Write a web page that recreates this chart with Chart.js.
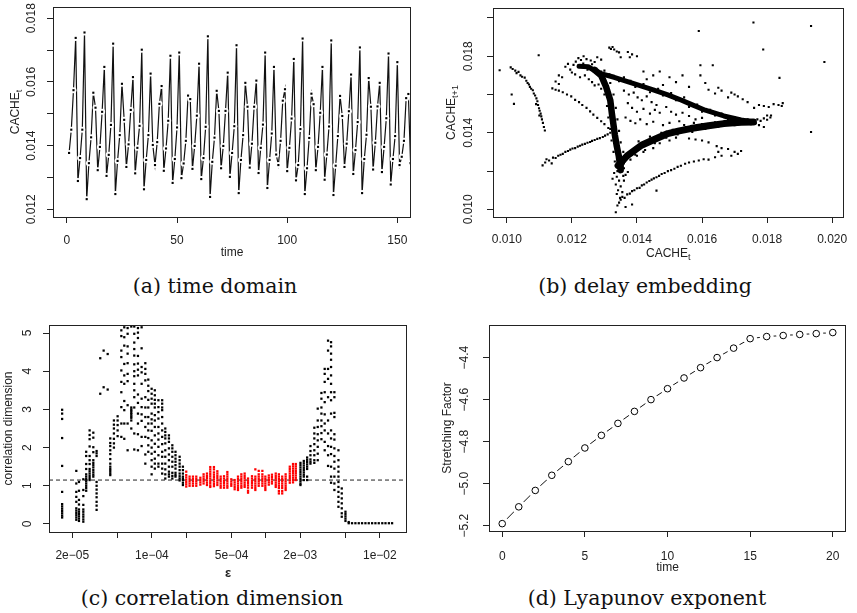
<!DOCTYPE html>
<html>
<head>
<meta charset="utf-8">
<script src="https://cdn.jsdelivr.net/npm/chart.js@4.4.1/dist/chart.umd.min.js"></script>
<style>
body { margin: 0; background: #fff; width: 857px; height: 613px; position: relative; overflow: hidden; }
canvas { position: absolute; }
.cap { position: absolute; width: 400px; text-align: center; font-family: "DejaVu Serif", serif; font-size: 20.5px; line-height: 21px; color: #111; white-space: nowrap; }
</style>
</head>
<body>
<canvas id="chartA" width="428" height="262" style="left:0;top:0"></canvas>
<canvas id="chartB" width="427" height="262" style="left:430px;top:0"></canvas>
<canvas id="chartC" width="428" height="284" style="left:0;top:300px"></canvas>
<canvas id="chartD" width="427" height="275" style="left:430px;top:300px"></canvas>
<div class="cap" style="left:15px;top:276px">(a) time domain</div>
<div class="cap" style="left:445px;top:276px">(b) delay embedding</div>
<div class="cap" style="left:12px;top:588px">(c) correlation dimension</div>
<div class="cap" style="left:447px;top:588px">(d) Lyapunov exponent</div>
<script>
// (a) time domain, t = 1, 2, 3 ...
var timeValues = [0.01377,0.01450,0.01574,0.01738,0.01289,0.01361,0.01450,0.01755,0.01232,0.01345,
  0.01426,0.01566,0.01519,0.01323,0.01396,0.01506,0.01647,0.01305,0.01371,0.01465,
  0.01720,0.01248,0.01352,0.01433,0.01594,0.01481,0.01333,0.01404,0.01512,0.01615,
  0.01313,0.01393,0.01462,0.01701,0.01263,0.01355,0.01433,0.01626,0.01402,0.01339,
  0.01411,0.01531,0.01587,0.01321,0.01391,0.01478,0.01682,0.01283,0.01358,0.01457,
  0.01692,0.01298,0.01344,0.01415,0.01557,0.01546,0.01327,0.01399,0.01494,0.01657,
  0.01295,0.01361,0.01459,0.01743,0.01239,0.01349,0.01425,0.01572,0.01509,0.01329,
  0.01399,0.01509,0.01629,0.01302,0.01377,0.01461,0.01715,0.01251,0.01355,0.01433,
  0.01597,0.01522,0.01331,0.01406,0.01522,0.01604,0.01314,0.01393,0.01466,0.01692,
  0.01267,0.01355,0.01438,0.01647,0.01372,0.01339,0.01415,0.01541,0.01577,0.01320,
  0.01393,0.01485,0.01672,0.01291,0.01339,0.01452,0.01736,0.01248,0.01329,0.01424,
  0.01563,0.01530,0.01323,0.01396,0.01503,0.01647,0.01293,0.01372,0.01460,0.01730,
  0.01245,0.01337,0.01430,0.01556,0.01493,0.01333,0.01406,0.01508,0.01623,0.01311,
  0.01386,0.01474,0.01708,0.01251,0.01358,0.01434,0.01612,0.01522,0.01325,0.01409,
  0.01523,0.01597,0.01317,0.01396,0.01486,0.01689,0.01278,0.01358,0.01430,0.01662,
  0.01339,0.01365,0.01415,0.01549,0.01562,0.01345];
var timeTicks = [0, 50, 100, 150];
var cacheTicks = [0.012, 0.013, 0.014, 0.015, 0.016, 0.017, 0.018];
var cacheLabels = ['0.012', '', '0.014', '', '0.016', '', '0.018'];

// (b) delay embedding: dense ridges and the scattered points around them
var embedRidgeUpper = [[0.01222,0.01748],[0.01250,0.01745],[0.01283,0.01712],[0.01330,0.01690],[0.01400,0.01652],
  [0.01450,0.01624],[0.01495,0.01598],[0.01530,0.01575],[0.01565,0.01550],[0.01610,0.01518],[0.01667,0.01488],
  [0.01720,0.01467],[0.01758,0.01456]];
var embedRidgeVertical = [[0.01270,0.01728],[0.01290,0.01700],[0.01305,0.01640],[0.01318,0.01570],[0.01323,0.01500],
  [0.01328,0.01440],[0.01332,0.01390],[0.01338,0.01330],[0.01344,0.01280],[0.01348,0.01230],[0.01350,0.01205]];
var embedRidgeLower = [[0.01342,0.01228],[0.01370,0.01280],[0.01414,0.01335],[0.01460,0.01370],[0.01495,0.01396],
  [0.01530,0.01410],[0.01565,0.01422],[0.01620,0.01437],[0.01667,0.01448],[0.01720,0.01455],[0.01758,0.01456]];
var embedPoints = [
  [0.00978,0.01727],[0.01012,0.01742],[0.01018,0.01733],[0.01026,0.01725],[0.01030,0.01712],[0.01036,0.01718],
  [0.01042,0.01700],[0.01047,0.01693],[0.01055,0.01688],[0.01060,0.01672],[0.01064,0.01660],[0.01068,0.01652],
  [0.01071,0.01640],[0.01075,0.01630],[0.01080,0.01622],[0.01083,0.01605],[0.01087,0.01595],[0.01091,0.01580],
  [0.01094,0.01565],[0.01096,0.01545],[0.01099,0.01528],[0.01101,0.01515],[0.01104,0.01500],[0.01106,0.01486],
  [0.01108,0.01470],[0.01111,0.01452],[0.01114,0.01430],[0.01117,0.01412],[0.01015,0.01600],[0.01022,0.01551],
  [0.01098,0.01805],[0.01090,0.01550],[0.01100,0.01490],
  [0.01110,0.01230],[0.01118,0.01245],[0.01122,0.01262],[0.01130,0.01255],[0.01138,0.01240],[0.01142,0.01270],
  [0.01150,0.01268],[0.01158,0.01280],[0.01165,0.01285],[0.01172,0.01290],[0.01180,0.01300],[0.01188,0.01305],
  [0.01195,0.01312],[0.01202,0.01318],[0.01210,0.01320],[0.01218,0.01328],[0.01225,0.01332],[0.01232,0.01338],
  [0.01240,0.01342],[0.01248,0.01348],[0.01256,0.01352],[0.01262,0.01358],[0.01270,0.01362],[0.01278,0.01368],
  [0.01286,0.01372],[0.01295,0.01378],[0.01302,0.01385],[0.01310,0.01392],[0.01318,0.01400],
  [0.01140,0.01632],[0.01150,0.01625],[0.01160,0.01620],[0.01172,0.01612],[0.01185,0.01600],[0.01198,0.01590],
  [0.01210,0.01572],[0.01222,0.01560],[0.01232,0.01545],[0.01245,0.01530],[0.01256,0.01512],[0.01266,0.01495],
  [0.01278,0.01478],[0.01290,0.01460],[0.01300,0.01445],[0.01312,0.01425],
  [0.01180,0.01745],[0.01188,0.01760],[0.01195,0.01730],[0.01205,0.01755],[0.01212,0.01772],[0.01220,0.01790],
  [0.01228,0.01780],[0.01236,0.01800],[0.01245,0.01785],[0.01258,0.01778],[0.01270,0.01770],[0.01278,0.01795],
  [0.01290,0.01782],[0.01200,0.01715],[0.01210,0.01705],[0.01225,0.01690],[0.01240,0.01700],[0.01252,0.01680],
  [0.01262,0.01665],[0.01270,0.01648],[0.01282,0.01652],[0.01290,0.01630],[0.01160,0.01700],[0.01170,0.01690],
  [0.01150,0.01668],[0.01160,0.01655],
  [0.01315,0.01845],[0.01320,0.01838],[0.01325,0.01848],[0.01330,0.01835],[0.01338,0.01825],[0.01345,0.01820],
  [0.01372,0.01822],[0.01385,0.01810],[0.01378,0.01795],[0.01400,0.01800],
  [0.01360,0.01620],[0.01375,0.01600],[0.01390,0.01610],[0.01402,0.01585],[0.01415,0.01570],[0.01430,0.01590],
  [0.01445,0.01560],[0.01460,0.01545],[0.01372,0.01555],[0.01385,0.01530],[0.01400,0.01510],[0.01420,0.01525],
  [0.01440,0.01500],[0.01455,0.01520],[0.01470,0.01505],[0.01490,0.01535],[0.01505,0.01510],[0.01520,0.01495],
  [0.01540,0.01505],[0.01560,0.01488],[0.01580,0.01470],[0.01600,0.01478],[0.01365,0.01480],[0.01380,0.01462],
  [0.01395,0.01450],[0.01410,0.01470],[0.01430,0.01445],[0.01450,0.01458],[0.01480,0.01440],[0.01500,0.01452],
  [0.01530,0.01460],[0.01545,0.01440],[0.01575,0.01452],
  [0.01560,0.01370],[0.01580,0.01365],[0.01600,0.01360],[0.01620,0.01350],[0.01645,0.01330],[0.01660,0.01320],
  [0.01680,0.01315],[0.01700,0.01300],[0.01720,0.01305],[0.01690,0.01280],[0.01650,0.01300],[0.01710,0.01290],
  [0.01420,0.01300],[0.01450,0.01320],[0.01470,0.01345],[0.01500,0.01360],[0.01520,0.01375],[0.01400,0.01280],
  [0.01380,0.01260],
  [0.01335,0.00985],[0.01340,0.01020],[0.01345,0.01035],[0.01350,0.01050],[0.01355,0.01065],[0.01362,0.01060],
  [0.01370,0.01078],[0.01378,0.01082],[0.01385,0.01095],[0.01392,0.01100],[0.01400,0.01110],[0.01408,0.01112],
  [0.01415,0.01125],[0.01422,0.01130],[0.01430,0.01140],[0.01438,0.01148],[0.01445,0.01155],[0.01452,0.01162],
  [0.01460,0.01168],[0.01468,0.01175],[0.01476,0.01185],[0.01485,0.01190],[0.01495,0.01200],[0.01505,0.01205],
  [0.01515,0.01212],[0.01525,0.01222],[0.01535,0.01228],[0.01548,0.01238],[0.01560,0.01245],[0.01575,0.01250],
  [0.01590,0.01255],[0.01605,0.01262],[0.01620,0.01260],[0.01640,0.01272],[0.01660,0.01280],[0.01385,0.01025],
  [0.01365,0.01012],[0.01460,0.01098],
  [0.01330,0.01190],[0.01338,0.01170],[0.01345,0.01150],[0.01335,0.01130],[0.01350,0.01120],[0.01342,0.01100],
  [0.01355,0.01090],[0.01338,0.01080],[0.01360,0.01150],[0.01365,0.01180],[0.01325,0.01160],[0.01348,0.01060],
  [0.01358,0.01175],[0.01372,0.01195],
  [0.01770,0.01470],[0.01780,0.01462],[0.01790,0.01475],[0.01800,0.01468],[0.01810,0.01480],[0.01775,0.01440],
  [0.01790,0.01430],[0.01800,0.01490],[0.01812,0.01490],
  [0.01760,0.01530],[0.01775,0.01545],[0.01790,0.01540],[0.01805,0.01535],[0.01820,0.01550],[0.01835,0.01545],
  [0.01845,0.01540],[0.01848,0.01555],[0.01740,0.01560],[0.01725,0.01575],[0.01710,0.01590],[0.01700,0.01600],
  [0.01690,0.01610],[0.01680,0.01585],[0.01660,0.01620],[0.01650,0.01635],[0.01640,0.01605],[0.01620,0.01625],
  [0.01610,0.01660],[0.01595,0.01700],[0.01560,0.01640],[0.01520,0.01665],[0.01500,0.01690],[0.01480,0.01650],
  [0.01540,0.01700],[0.01470,0.01720],[0.01450,0.01700],[0.01430,0.01680],[0.01420,0.01720],
  [0.01758,0.01976],[0.01935,0.01958],[0.01590,0.01932],[0.01788,0.01835],[0.01976,0.01770],[0.01838,0.01687],
  [0.01935,0.01404],[0.01595,0.01753],[0.01633,0.01753],[0.01350,0.01795],
  // spread along the dense ridges
  [0.01235,0.01762],[0.01248,0.01730],[0.01262,0.01758],[0.01275,0.01735],[0.01290,0.01720],[0.01300,0.01725],
  [0.01315,0.01705],[0.01345,0.01670],[0.01360,0.01690],[0.01380,0.01672],[0.01395,0.01640],[0.01420,0.01655],
  [0.01440,0.01612],[0.01465,0.01630],[0.01480,0.01595],[0.01505,0.01608],[0.01520,0.01570],[0.01545,0.01585],
  [0.01560,0.01535],[0.01585,0.01548],[0.01600,0.01510],[0.01625,0.01520],[0.01640,0.01490],[0.01660,0.01500],
  [0.01680,0.01470],[0.01700,0.01482],[0.01725,0.01455],[0.01740,0.01470],[0.01750,0.01445],[0.01765,0.01450],
  [0.01295,0.01680],[0.01318,0.01660],[0.01300,0.01600],[0.01328,0.01600],[0.01308,0.01540],[0.01335,0.01530],
  [0.01312,0.01480],[0.01340,0.01470],[0.01318,0.01420],[0.01345,0.01410],[0.01322,0.01360],[0.01350,0.01350],
  [0.01328,0.01300],[0.01358,0.01300],[0.01332,0.01250],[0.01362,0.01250],[0.01340,0.01200],[0.01360,0.01215],
  [0.01360,0.01240],[0.01380,0.01305],[0.01395,0.01285],[0.01405,0.01355],[0.01425,0.01310],[0.01440,0.01380],
  [0.01455,0.01345],[0.01475,0.01400],[0.01490,0.01375],[0.01510,0.01415],[0.01525,0.01392],[0.01550,0.01430],
  [0.01570,0.01405],[0.01600,0.01445],[0.01610,0.01420],[0.01640,0.01455],[0.01650,0.01432],[0.01690,0.01465],
  [0.01700,0.01440],[0.01735,0.01465]];
var embedXTicks = [0.010, 0.012, 0.014, 0.016, 0.018, 0.020];
var embedXLabels = ['0.010', '0.012', '0.014', '0.016', '0.018', '0.020'];
var embedYTicks = [0.010, 0.012, 0.014, 0.016, 0.018, 0.020];
var embedYLabels = ['0.010', '', '0.014', '', '0.018', ''];

// (c) correlation dimension: [epsilon, values at that epsilon]
var corrBlack = [
  [1.63e-5, [2.99,2.89,2.75,2.25,1.52,0.84,0.52,0.46,0.40,0.34,0.28,0.22,0.17]],
  [2.17e-5, [1.39,1.06,0.84,0.71,0.58,0.41,0.35,0.29,0.23,0.17,0.11]],
  [2.29e-5, [1.10,0.87,0.63,0.51,0.38,0.32,0.26,0.20,0.14,0.08]],
  [2.50e-5, [1.17,0.89,0.73,0.50,0.38,0.32,0.25,0.19,0.12,0.06]],
  [2.65e-5, [1.89,1.78,1.57,1.44,1.30,1.24,1.18,1.12,1.06,1.00,0.94,0.87]],
  [2.84e-5, [2.45,2.33,2.22,2.03,1.78,1.67,1.57,1.44,1.38,1.32,1.26,1.20,1.15]],
  [3.06e-5, [2.39,2.26,2.01,1.88,1.67,1.60,1.54,1.48,1.41,1.35,1.29,1.24]],
  [3.27e-5, [1.91,1.85,1.78,1.10,1.00,0.90,0.80,0.70,0.58,0.48,0.37]],
  [3.52e-5, [4.34,3.41]],
  [3.77e-5, [4.54,3.58]],
  [4.09e-5, [4.45,3.52]],
  [4.31e-5, [2.24,2.12,2.04,1.93,1.83,1.70,1.58,1.50,1.44,1.39,1.33,1.28]],
  [4.64e-5, [2.71,2.60,2.50,2.37,2.23,2.11,2.00]],
  [5.00e-5, [2.82,2.71,2.59,2.45,2.30]],
  [5.39e-5, [5.07,4.92,4.54,4.37,4.02,3.72,3.45,3.06,2.63,2.28]],
  [5.72e-5, [5.15,4.89,4.67,4.19,3.89,3.67,3.22,2.98,2.63,2.23]],
  [6.12e-5, [5.13,4.98,4.65,4.46,4.21,3.93,3.74,3.11,2.63,1.93]],
  [6.59e-5, [5.17,3.05,3.00,2.96,2.91,2.87,2.82,2.78,2.71,2.50]],
  [7.00e-5, [5.17,4.98,4.75,4.58,4.41,4.18,4.00,3.87,3.67,3.50,3.32,3.05,2.37,1.95]],
  [7.54e-5, [5.13,5.01,4.87,4.40,4.20,4.04,3.89,3.39,3.17,2.89,2.63,2.35,1.93]],
  [8.12e-5, [5.15,4.60,4.11,3.97,3.67,3.28,3.06,2.87,2.70,2.28,2.04]],
  [8.75e-5, [4.21,4.06,3.93,3.76,3.32,3.05,2.80,2.54,2.28,1.82,1.58]],
  [9.29e-5, [3.78,3.62,3.48,3.25,3.05,2.80,2.63,2.45,2.25,2.06,1.89]],
  [9.94e-5, [3.54,3.41,3.28,3.15,2.89,2.74,2.63,2.44,2.19,2.00,1.84,1.67,1.50,1.30]],
  [1.06e-4, [3.50,3.37,3.25,3.15,3.05,2.85,2.71,2.54,2.32,2.10,1.89,1.71,1.58,1.45]],
  [1.14e-4, [3.24,3.06,2.93,2.76,2.54,2.37,2.21,2.02,1.80,1.58,1.50]],
  [1.23e-4, [3.24,3.15,3.05,2.98,2.80,2.63,2.45,2.28,2.09,1.89,1.76,1.58,1.45,1.32]],
  [1.31e-4, [2.50,2.41,2.32,2.24,2.11,1.93,1.76,1.58,1.43,1.30,1.19]],
  [1.41e-4, [2.32,2.24,2.15,1.98,1.82,1.67,1.50,1.37,1.30,1.24]],
  [1.51e-4, [2.06,1.98,1.89,1.76,1.63,1.50,1.34,1.26,1.19]],
  [1.61e-4, [1.89,1.80,1.71,1.63,1.54,1.45,1.34,1.28,1.24]],
  [1.75e-4, [1.76,1.67,1.58,1.50,1.41,1.32,1.25,1.19,1.14]],
  [1.87e-4, [1.50,1.41,1.32,1.24,1.19,1.15,1.08,1.02]],
  [2.01e-3, [1.60,1.54,1.48,1.42,1.36,1.30,1.24,1.18,1.12,1.06,1.02]],
  [2.15e-3, [1.65,1.59,1.53,1.47,1.41,1.35,1.29,1.24,1.15]],
  [2.30e-3, [1.74,1.68,1.62,1.56,1.50,1.44,1.24,1.15]],
  [2.46e-3, [2.04,1.91,1.80,1.69,1.63,1.58]],
  [2.66e-3, [2.52,2.37,2.24,2.09,1.93,1.80,1.67,1.60]],
  [2.85e-3, [3.02,2.71,2.54,2.35,2.19,2.02,1.84,1.67]],
  [3.07e-3, [3.43,3.28,3.05,2.89,2.71,2.56,2.38,2.22]],
  [3.28e-3, [4.06,3.93,3.72,3.45,3.19,2.87,2.63,2.45,2.15,1.93]],
  [3.51e-3, [4.80,4.54,4.06,3.80,3.32,2.71,2.37,2.04,1.80,1.52]],
  [3.73e-3, [4.76,4.65,4.46,4.30,4.11,3.89,3.67,3.45,3.24,2.89,2.45,2.24,2.02,1.83,1.50,1.24,1.08]],
  [3.99e-3, [3.45,3.32,2.91,2.80,2.35,2.21,1.98,1.78,1.63,1.45,1.24,1.06,0.89]],
  [4.33e-3, [1.93,1.67,1.50,1.37,1.24,1.10,0.97,0.84,0.71,0.58,0.45]],
  [4.63e-3, [0.93,0.80,0.67,0.54,0.41,0.28,0.19]],
  [4.99e-3, [0.32,0.26,0.20,0.14,0.08]],
  [5.33e-3, [0.05,0.02]],
  [5.70e-3, [0.02]], [6.10e-3, [0.02]], [6.53e-3, [0.02]], [6.98e-3, [0.02]], [7.47e-3, [0.02]],
  [7.99e-3, [0.02]], [8.55e-3, [0.02]], [9.14e-3, [0.02]], [9.78e-3, [0.02]], [1.05e-2, [0.02]],
  [1.12e-2, [0.02]], [1.20e-2, [0.02]], [1.28e-2, [0.02]]];
var corrRed = [
  [2.00e-4, [1.37,1.28,1.22,1.16,1.10,1.04,0.98]],
  [2.14e-4, [1.24,1.18,1.12,1.06,1.00]],
  [2.29e-4, [1.24,1.18,1.12,1.06,1.00]],
  [2.45e-4, [1.24,1.18,1.12,1.06,1.00]],
  [2.66e-4, [1.21,1.15,1.09,1.03]],
  [2.84e-4, [1.30,1.24,1.18,1.12,1.06]],
  [3.04e-4, [1.32,1.26,1.20,1.14,1.08,1.02]],
  [3.25e-4, [1.49,1.43,1.37,1.31,1.25,1.19,1.13,1.07,1.01,0.97]],
  [3.50e-4, [1.49,1.43,1.35,1.29,1.23,1.17,1.11,1.05,0.99]],
  [3.75e-4, [1.38,1.32,1.26,1.20,1.14,1.08,1.02]],
  [4.01e-4, [1.24,1.18,1.12,1.06,1.00,0.95]],
  [4.29e-4, [1.25,1.19,1.13,1.07,1.01,0.95]],
  [4.59e-4, [1.36,1.30,1.24,1.18,1.12,1.06,1.00,0.95]],
  [4.97e-4, [1.17,1.11,1.05,1.00]],
  [5.32e-4, [1.15,1.09,1.03,0.97,0.91]],
  [5.69e-4, [1.24,1.18,1.12,1.06,1.00,0.94,0.89]],
  [6.09e-4, [1.30,1.24,1.18,1.12,1.06,1.00,0.95]],
  [6.51e-4, [1.32,1.26,1.20,1.14,1.08,1.02,0.97]],
  [6.97e-4, [1.19,1.13,1.07,1.01,0.95,0.87,0.82]],
  [7.55e-4, [1.25,1.19,1.13,1.07,1.01,0.95]],
  [8.08e-4, [1.43,1.24,1.18,1.12,1.06,1.00,0.94,0.89]],
  [8.65e-4, [1.39,1.30,1.24,1.18,1.12,1.06,1.00]],
  [9.31e-4, [1.39,1.30,1.24,1.18,1.12,1.06,1.00]],
  [9.89e-4, [1.24,1.18,1.12,1.06,1.00,0.94,0.89]],
  [1.06e-3, [1.27,1.21,1.15,1.09,1.03]],
  [1.13e-3, [1.29,1.23,1.17,1.11,1.06]],
  [1.22e-3, [1.32,1.26,1.20,1.14,1.08,1.02,0.97]],
  [1.30e-3, [1.30,1.24,1.18,1.12,1.06,1.00,0.94,0.86,0.80]],
  [1.39e-3, [1.24,1.18,1.12,1.06,1.00,0.94,0.86,0.80]],
  [1.49e-3, [1.30,1.24,1.18,1.12,1.06,1.00,0.94,0.89]],
  [1.62e-3, [1.50,1.44,1.38,1.32,1.26,1.20,1.14,1.08]],
  [1.73e-3, [1.57,1.51,1.45,1.39,1.33,1.27,1.21,1.15,1.09]],
  [1.83e-3, [1.57,1.51,1.45,1.39,1.33,1.27,1.21,1.15]]];
var corrLevel = 1.15;
var epsTicks = [2e-5, 5e-5, 1e-4, 2e-4, 5e-4, 1e-3, 2e-3, 5e-3, 1e-2];
var epsLabels = ['2e\u221205', '', '1e\u221204', '', '5e\u221204', '', '2e\u221203', '', '1e\u221202'];
var dimTicks = [0, 1, 2, 3, 4, 5];
var dimLabels = ['0', '1', '2', '3', '4', '5'];

// (d) Lyapunov exponent
var lyapTime = [0, 1, 2, 3, 4, 5, 6, 7, 8, 9, 10, 11, 12, 13, 14, 15, 16, 17, 18, 19, 20];
var lyapStretch = [-5.19, -5.11, -5.032, -4.96, -4.895, -4.83, -4.77, -4.713, -4.656, -4.60, -4.548,
  -4.497, -4.448, -4.40, -4.355, -4.31, -4.30, -4.295, -4.29, -4.286, -4.281];
var lyapXTicks = [0, 5, 10, 15, 20];
var stretchTicks = [-5.2, -5.0, -4.8, -4.6, -4.4];
var stretchLabels = ['\u22125.2', '\u22125.0', '\u22124.8', '\u22124.6', '\u22124.4'];

var FONT = '"Liberation Sans", Arial, sans-serif';
var INK = '#222';

function pairs(list) {
    return list.map(function (p) { return { x: p[0], y: p[1] }; });
}
function columns(list) {
    var out = [];
    list.forEach(function (c) {
        c[1].forEach(function (v) { out.push({ x: c[0], y: v }); });
    });
    return out;
}

function drawTitle(ctx, t, x, y, vertical) {
    var main = t[2] || ('12px ' + FONT);
    ctx.save();
    ctx.translate(x, y);
    if (vertical) ctx.rotate(-Math.PI / 2);
    ctx.font = main;
    var w1 = ctx.measureText(t[0]).width;
    var w2 = 0;
    if (t[1]) {
        ctx.font = '9px ' + FONT;
        w2 = ctx.measureText(t[1]).width;
    }
    var start = -(w1 + w2) / 2;
    ctx.textAlign = 'left';
    ctx.textBaseline = 'middle';
    ctx.font = main;
    ctx.fillText(t[0], start, 0);
    if (t[1]) {
        ctx.font = '9px ' + FONT;
        ctx.fillText(t[1], start + w1, 4);
    }
    ctx.restore();
}

// R style frame: box, rotated y tick labels, axis titles
var rFrame = {
    id: 'rFrame',
    afterDraw: function (chart, args, o) {
        var ctx = chart.ctx, a = chart.chartArea;
        ctx.save();
        ctx.strokeStyle = INK;
        ctx.lineWidth = 1;
        ctx.strokeRect(Math.round(a.left) + 0.5, Math.round(a.top) + 0.5,
            Math.round(a.right - a.left) - 1, Math.round(a.bottom - a.top));
        ctx.fillStyle = INK;
        ctx.font = '12px ' + FONT;
        ctx.textAlign = 'center';
        ctx.textBaseline = 'middle';
        var ys = chart.scales.y;
        o.yTicks.forEach(function (v, i) {
            if (!o.yLabels[i]) return;
            ctx.save();
            ctx.translate(a.left - o.yGap, ys.getPixelForValue(v));
            ctx.rotate(-Math.PI / 2);
            ctx.fillText(o.yLabels[i], 0, 0);
            ctx.restore();
        });
        drawTitle(ctx, o.yTitle, a.left - o.yTitleGap, (a.top + a.bottom) / 2, true);
        drawTitle(ctx, o.xTitle, (a.left + a.right) / 2, a.bottom + o.xTitleGap, false);
        ctx.restore();
    }
};

function scaleCfg(type, min, max, ticks, labels, pad, size, horizontal) {
    var cfg = {
        type: type,
        min: min,
        max: max,
        afterBuildTicks: function (s) {
            s.ticks = ticks.map(function (v) { return { value: v }; });
        },
        grid: { drawOnChartArea: false, drawTicks: true, tickLength: 6, color: INK, lineWidth: 1 },
        border: { display: false },
        ticks: {
            display: horizontal,
            autoSkip: false,
            maxRotation: 0,
            padding: pad,
            color: INK,
            font: { family: FONT, size: 12 },
            callback: function (v, i) { return labels ? labels[i] : String(ticks[i]); }
        }
    };
    if (horizontal) {
        cfg.afterFit = function (s) { s.height = size; };
    } else {
        cfg.afterFit = function (s) { s.width = size; };
    }
    return cfg;
}

function baseOptions(padding, scales, frame) {
    return {
        responsive: false,
        animation: false,
        events: [],
        layout: { padding: padding, autoPadding: false },
        scales: scales,
        plugins: { legend: { display: false }, tooltip: { enabled: false }, rFrame: frame }
    };
}

// (a)
var timePts = timeValues.map(function (v, i) { return { x: i + 1, y: v }; });
new Chart(document.getElementById('chartA'), {
    type: 'scatter',
    data: {
        datasets: [
            { data: timePts, pointStyle: 'rect', pointRadius: 1.5, pointBackgroundColor: '#000', pointBorderWidth: 0 },
            { data: timePts, pointStyle: 'circle', pointRadius: 3, pointBackgroundColor: '#fff', pointBorderWidth: 0 },
            { data: timePts, showLine: true, tension: 0, borderColor: '#111', borderWidth: 1.2, pointRadius: 0 }
        ]
    },
    options: baseOptions({ left: 0, top: 7, right: 17, bottom: 0 }, {
        x: scaleCfg('linear', -6.3, 156.2, timeTicks, null, 10, 45, true),
        y: scaleCfg('linear', 0.01176, 0.01835, cacheTicks, cacheLabels, 0, 53, false)
    }, { yTicks: cacheTicks, yLabels: cacheLabels, yGap: 21, yTitleGap: 37, xTitleGap: 36,
         yTitle: ['CACHE', 't'], xTitle: ['time'] }),
    plugins: [rFrame]
});

// (b)
var ridgeStyle = { showLine: true, tension: 0, borderColor: '#000', pointRadius: 0, borderJoinStyle: 'round', borderCapStyle: 'round' };
new Chart(document.getElementById('chartB'), {
    type: 'scatter',
    data: {
        datasets: [
            { data: pairs(embedPoints), pointStyle: 'rect', pointRadius: 1.5, pointBackgroundColor: '#000', pointBorderWidth: 0 },
            Object.assign({ data: pairs(embedRidgeUpper), borderWidth: 5 }, ridgeStyle),
            Object.assign({ data: pairs(embedRidgeVertical), borderWidth: 6.5 }, ridgeStyle),
            Object.assign({ data: pairs(embedRidgeLower), borderWidth: 7 }, ridgeStyle)
        ]
    },
    options: baseOptions({ left: 0, top: 8, right: 9, bottom: 0 }, {
        x: scaleCfg('linear', 0.009576, 0.02035, embedXTicks, embedXLabels, 9.5, 45, true),
        y: scaleCfg('linear', 0.0096, 0.02052, embedYTicks, embedYLabels, 0, 63, false)
    }, { yTicks: embedYTicks, yLabels: embedYLabels, yGap: 24, yTitleGap: 41, xTitleGap: 37,
         yTitle: ['CACHE', 't+1'], xTitle: ['CACHE', 't'] }),
    plugins: [rFrame]
});

// (c)
new Chart(document.getElementById('chartC'), {
    type: 'scatter',
    data: {
        datasets: [
            { data: columns(corrRed), pointStyle: 'rect', pointRadius: 1.6, pointBackgroundColor: '#ff0000', pointBorderWidth: 0 },
            { data: columns(corrBlack), pointStyle: 'rect', pointRadius: 1.6, pointBackgroundColor: '#000', pointBorderWidth: 0 },
            { data: [{ x: 1.25e-5, y: corrLevel }, { x: 1.73e-2, y: corrLevel }], showLine: true, borderColor: '#222',
              borderWidth: 1, borderDash: [4, 3], pointRadius: 0 }
        ]
    },
    options: baseOptions({ left: 0, top: 25, right: 21, bottom: 0 }, {
        x: scaleCfg('logarithmic', 1.25e-5, 1.73e-2, epsTicks, epsLabels, 10, 52, true),
        y: scaleCfg('linear', -0.21, 5.21, dimTicks, dimLabels, 0, 49, false)
    }, { yTicks: dimTicks, yLabels: dimLabels, yGap: 21, yTitleGap: 40, xTitleGap: 41,
         yTitle: ['correlation dimension'], xTitle: ['\u03b5', '', 'bold 13px ' + FONT] }),
    plugins: [rFrame]
});

// (d)
var lyapPts = lyapTime.map(function (t, i) { return { x: t, y: lyapStretch[i] }; });
new Chart(document.getElementById('chartD'), {
    type: 'scatter',
    data: {
        datasets: [
            { data: lyapPts, pointStyle: 'circle', pointRadius: 3.3, pointBackgroundColor: '#fff', pointBorderColor: '#000', pointBorderWidth: 1 },
            { data: lyapPts, pointStyle: 'circle', pointRadius: 7, pointBackgroundColor: '#fff', pointBorderWidth: 0 },
            { data: lyapPts, showLine: true, tension: 0, borderColor: '#111', borderWidth: 1, pointRadius: 0 }
        ]
    },
    options: baseOptions({ left: 0, top: 25, right: 11, bottom: 0 }, {
        x: scaleCfg('linear', -0.8, 20.8, lyapXTicks, null, 12, 44, true),
        y: scaleCfg('linear', -5.225, -4.245, stretchTicks, stretchLabels, 0, 59, false)
    }, { yTicks: stretchTicks, yLabels: stretchLabels, yGap: 24, yTitleGap: 41, xTitleGap: 37,
         yTitle: ['Stretching Factor'], xTitle: ['time'] }),
    plugins: [rFrame]
});
</script>
</body>
</html>
